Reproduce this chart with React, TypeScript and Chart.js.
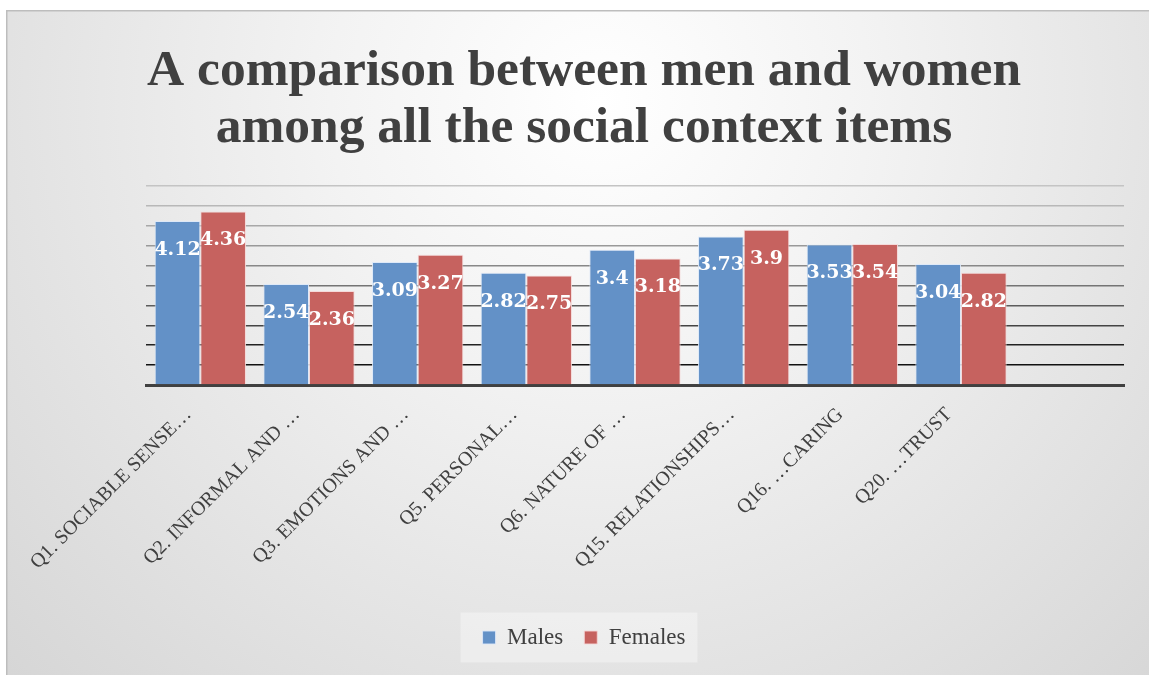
import React, { useEffect, useRef } from "react";
import { Chart, registerables } from "chart.js";

Chart.register(...registerables);

const categories = [
  "Q1. SOCIABLE SENSE…",
  "Q2. INFORMAL AND …",
  "Q3. EMOTIONS AND …",
  "Q5. PERSONAL…",
  "Q6. NATURE OF …",
  "Q15. RELATIONSHIPS…",
  "Q16. …CARING",
  "Q20. …TRUST",
  "",
];
const males = [4.12, 2.54, 3.09, 2.82, 3.4, 3.73, 3.53, 3.04, null];
const females = [4.36, 2.36, 3.27, 2.75, 3.18, 3.9, 3.54, 2.82, null];
const titleLines = ["A comparison between men and women", "among all the social context items"];

const gridColors = ["#404040", "#111111", "#222222", "#444444", "#5c5c5c", "#747474", "#888888", "#999999", "#a8a8a8", "#b8b8b8", "#c4c4c4"];

const bgPlugin = {
  id: "bgPlugin",
  beforeDraw(chart: any) {
    const { ctx, width, height } = chart;
    ctx.save();
    const g = ctx.createRadialGradient(width * 0.52, 90, 0, width * 0.52, 90, 900);
    g.addColorStop(0, "#ffffff");
    g.addColorStop(0.3, "#f3f3f3");
    g.addColorStop(1, "#d2d2d2");
    ctx.fillStyle = g;
    ctx.fillRect(0, 0, width, height);
    ctx.strokeStyle = "#bdbdbd";
    ctx.lineWidth = 1.5;
    ctx.beginPath();
    ctx.moveTo(0.75, height);
    ctx.lineTo(0.75, 0.75);
    ctx.lineTo(width, 0.75);
    ctx.stroke();
    const hb = chart.legend && chart.legend.legendHitBoxes;
    if (hb && hb.length) {
      const first = hb[0];
      const last = hb[hb.length - 1];
      const cy = first.top + first.height / 2;
      const x0 = first.left - 22;
      const x1 = last.left + last.width + 12;
      ctx.fillStyle = "rgba(255,255,255,0.35)";
      ctx.fillRect(x0, cy - 25, x1 - x0, 50);
    }
    ctx.restore();
  },
};

const labelPlugin = {
  id: "labelPlugin",
  afterDatasetsDraw(chart: any) {
    const { ctx } = chart;
    ctx.save();
    ctx.font = "bold 19px 'DejaVu Serif'";
    ctx.fillStyle = "#ffffff";
    ctx.textAlign = "center";
    ctx.textBaseline = "middle";
    chart.data.datasets.forEach((ds: any, di: number) => {
      const meta = chart.getDatasetMeta(di);
      meta.data.forEach((el: any, i: number) => {
        const v = ds.data[i];
        if (v === null || v === undefined) return;
        ctx.fillText(String(v), el.x, el.y + 29);
      });
    });
    ctx.restore();
  },
};

export default function App() {
  const ref = useRef<HTMLCanvasElement>(null);
  useEffect(() => {
    if (!ref.current) return;
    const chart = new Chart(ref.current, {
      type: "bar",
      data: {
        labels: categories,
        datasets: [
          {
            label: "Males",
            data: males,
            backgroundColor: "#6391c7",
            borderColor: "rgba(220,232,248,0.9)",
            borderWidth: 1,
          },
          {
            label: "Females",
            data: females,
            backgroundColor: "#c6625f",
            borderColor: "rgba(245,215,215,0.9)",
            borderWidth: 1,
          },
        ],
      },
      options: {
        animation: false,
        responsive: false,
        maintainAspectRatio: false,
        layout: { padding: { left: 38, right: 25, top: 0, bottom: 16 } },
        datasets: { bar: { categoryPercentage: 0.84, barPercentage: 1 } },
        plugins: {
          title: {
            display: true,
            text: titleLines,
            color: "#404040",
            font: { family: "'Liberation Serif'", size: 51.5, weight: "bold", lineHeight: 1.107 },
            padding: { top: 33, bottom: 29 },
          },
          legend: {
            position: "bottom",
            labels: {
              boxWidth: 13,
              boxHeight: 13,
              padding: 21,
              color: "#404040",
              font: { family: "'Liberation Serif'", size: 23 },
            },
          },
          tooltip: { enabled: false },
        },
        scales: {
          x: {
            grid: { display: false },
            border: { display: true, color: "#404040", width: 3 },
            ticks: {
              autoSkip: false,
              minRotation: 45,
              maxRotation: 45,
              labelOffset: -12,
              padding: 10,
              color: "#404040",
              font: { family: "'Liberation Serif'", size: 20 },
            },
            afterFit: (s: any) => {
              s.height = 220;
            },
          },
          y: {
            min: 0,
            max: 5,
            ticks: { display: false, stepSize: 0.5 },
            border: { display: false },
            grid: {
              drawTicks: false,
              lineWidth: 1.5,
              color: (c: any) => gridColors[c.index] || "#c4c4c4",
            },
            afterFit: (s: any) => {
              s.width = 102;
            },
          },
        },
      },
      plugins: [bgPlugin, labelPlugin],
    } as any);
    return () => chart.destroy();
  }, []);
  return (
    <div style={{ position: "absolute", left: 6, top: 10, width: 1143, height: 665 }}>
      <canvas ref={ref} width={1143} height={665} style={{ display: "block" }} />
    </div>
  );
}
